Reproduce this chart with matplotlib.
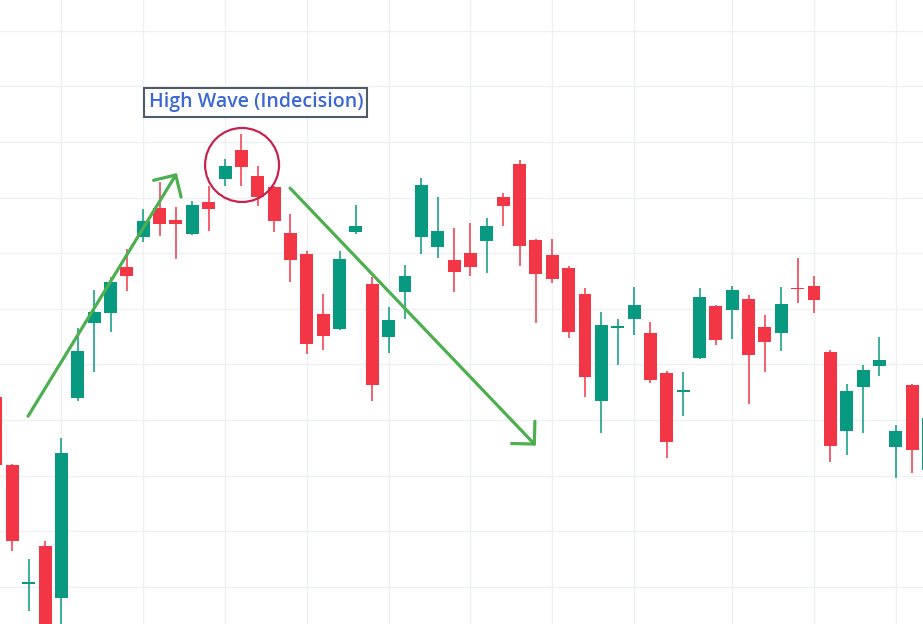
import matplotlib
matplotlib.use("Agg")
import matplotlib.pyplot as plt
from matplotlib.patches import Ellipse
import numpy as np

# OHLC (price units, one gridline every 10)
opens = [154.2, 141.9, 120.6, 127.4, 118.0, 154.0, 167.4, 169.2, 177.5, 182.9,
         188.1, 186.0, 183.4, 189.2, 193.3, 198.5, 193.9, 191.9, 183.6, 179.8,
         169.1, 166.4, 183.8, 174.5, 164.9, 173.0, 182.9, 181.1, 178.8, 180.0,
         182.2, 190.1, 196.0, 182.4, 179.7, 177.3, 172.7, 153.4, 166.6, 168.2,
         165.7, 158.5, 155.1, 161.2, 170.5, 169.8, 171.8, 166.7, 165.7, 173.7,
         174.1, 162.2, 148.0, 155.9, 159.7, 145.2, 156.3, 141.0]
highs = [155.4, 142.1, 125.0, 128.3, 146.8, 166.5, 173.4, 175.7, 180.7, 187.9,
         192.8, 188.3, 189.4, 192.1, 196.9, 201.4, 195.7, 192.1, 187.0, 180.4,
         172.7, 180.4, 188.7, 175.7, 170.3, 177.9, 193.5, 190.1, 184.5, 185.4,
         186.3, 190.8, 196.7, 182.6, 182.5, 177.7, 173.7, 169.4, 168.2, 173.9,
         167.6, 158.8, 158.6, 173.7, 170.7, 174.1, 172.5, 168.9, 173.9, 179.1,
         175.9, 162.6, 156.5, 159.9, 164.9, 149.1, 156.5, 152.0]
lows = [141.0, 126.5, 115.7, 108.7, 111.4, 153.4, 158.6, 165.8, 173.2, 182.0,
        183.1, 179.0, 183.2, 184.0, 192.1, 192.1, 188.5, 183.8, 174.8, 161.9,
        162.6, 166.2, 183.4, 153.4, 162.1, 168.2, 179.8, 179.1, 173.0, 175.9,
        176.4, 184.9, 177.7, 167.4, 174.6, 164.8, 154.2, 147.7, 159.9, 165.3,
        156.7, 143.2, 150.7, 161.0, 163.5, 164.6, 152.9, 158.6, 162.4, 171.0,
        169.2, 142.5, 143.7, 147.7, 157.9, 139.6, 140.5, 139.0]
closes = [141.9, 128.3, 120.8, 110.5, 144.1, 162.4, 169.4, 174.8, 175.9, 185.8,
          185.2, 185.2, 188.7, 187.9, 195.7, 195.5, 190.1, 185.8, 178.8, 163.7,
          165.1, 179.0, 184.9, 156.3, 168.0, 175.9, 192.2, 184.0, 176.6, 177.5,
          184.9, 188.5, 181.3, 176.3, 175.4, 165.8, 157.7, 167.1, 166.8, 170.7,
          157.2, 146.1, 155.3, 172.1, 164.4, 173.4, 161.7, 164.0, 170.9, 173.5,
          171.6, 145.3, 155.2, 159.0, 160.8, 148.0, 144.6, 150.4]
# candles where the vertical gridlines fall
grid_idx = [4, 9, 14, 19, 24, 29, 34, 39, 45, 50, 55]

UP = "#089981"
DOWN = "#F23645"
ARROW = "#4CAF50"

fig = plt.figure(figsize=(9.23, 6.24), dpi=100)
ax = fig.add_axes([0, 0, 1, 1])

x = np.arange(len(opens))
o, h, l, c = map(np.array, (opens, highs, lows, closes))
cols = np.where(c >= o, UP, DOWN)

for xi in grid_idx:
    ax.axvline(xi, color="#EEF0F4", linewidth=1, zorder=0)
for yv in np.arange(120, 230, 10):
    ax.axhline(yv, color="#EEF0F4", linewidth=1, zorder=0)

ax.vlines(x, l, h, colors=cols, linewidth=1.1, zorder=2)
body_lo = np.minimum(o, c)
body_h = np.maximum(np.abs(c - o), 0.3)
ax.bar(x, body_h, bottom=body_lo, width=0.79, color=cols, linewidth=0, zorder=3)

ax.set_xlim(0.245, 56.66)
ax.set_ylim(113.35, 225.5)
ax.axis("off")

# trend arrows
arrow_kw = dict(arrowstyle="->,head_length=0.58,head_width=0.58",
                color=ARROW, linewidth=2.3, mutation_scale=20,
                shrinkA=0, shrinkB=0)
ax.annotate("", xy=(11.06, 194.4), xytext=(1.96, 150.7), arrowprops=arrow_kw, zorder=4)
ax.annotate("", xy=(33.0, 145.4), xytext=(17.97, 191.7), arrowprops=arrow_kw, zorder=4)

# circle around the high wave candle
ax.add_patch(Ellipse((15.04, 195.85), 4.52, 13.3, fill=False,
                     edgecolor="#C8234F", linewidth=1.6, zorder=5))

ax.text(15.89, 207.1, "High Wave (Indecision)", ha="center", va="center",
        fontsize=14, color="#3B68D4", family="Open Sans", fontweight="semibold",
        bbox=dict(boxstyle="square,pad=0.22", facecolor="white",
                  edgecolor="#4E5B68", linewidth=1.5), zorder=6)

fig.savefig("out.png", dpi=100)
